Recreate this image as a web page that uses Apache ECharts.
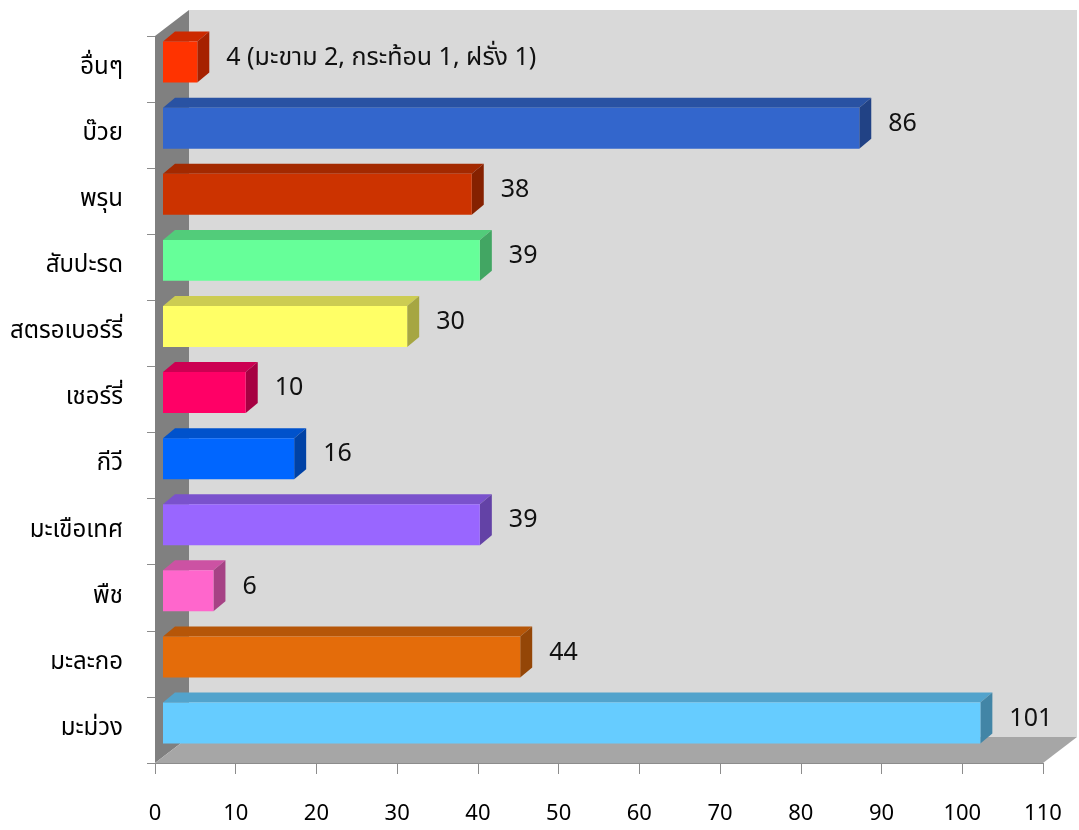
<!DOCTYPE html>
<html>
<head>
<meta charset="utf-8">
<script src="https://cdn.jsdelivr.net/npm/echarts@6/dist/echarts.min.js"></script>
<style>
html,body{margin:0;padding:0;background:#fff;}
#chart{width:1079px;height:830px;}
</style>
</head>
<body>
<div id="chart"></div>
<script>
// ---- data (bottom to top, as the category axis runs) ----
const categories = ['มะม่วง','มะละกอ','พืช','มะเขือเทศ','กีวี','เชอร์รี่','สตรอเบอร์รี่','สับปะรด','พรุน','บ๊วย','อื่นๆ'];
const values = [101, 44, 6, 39, 16, 10, 30, 39, 38, 86, 4];
const labelNotes = ['', '', '', '', '', '', '', '', '', '', ' (มะขาม 2, กระท้อน 1, ฝรั่ง 1)'];
const xMin = 0, xMax = 110, xStep = 10;

// ---- styles ----
const barColors = ['#66CCFF','#E46C0A','#FF66CC','#9966FF','#0066FF','#FF0066','#FFFF66','#66FF99','#CC3300','#3366CC','#FF3300'];
const FONT = 'Tahoma, "Noto Sans Thai", "Noto Sans Thai Looped", "DejaVu Sans", "Noto Sans", sans-serif';
const WALL_DX = 34, WALL_DY = -26;
const BAR_DX = 12, BAR_DY = -10;

function shade(hex, f) {
  const n = parseInt(hex.slice(1), 16);
  const r = Math.round(((n >> 16) & 255) * f), g = Math.round(((n >> 8) & 255) * f), b = Math.round((n & 255) * f);
  return 'rgb(' + r + ',' + g + ',' + b + ')';
}

const chart = echarts.init(document.getElementById('chart'), null, {renderer: 'canvas'});

const option = {
  backgroundColor: '#ffffff',
  animation: false,
  grid: {left: 155, right: 36, top: 36, bottom: 67, containLabel: false},
  xAxis: {
    type: 'value', min: xMin, max: xMax, interval: xStep,
    axisLine: {show: true, lineStyle: {color: '#8c8c8c', width: 1}},
    axisTick: {show: true, length: 11, lineStyle: {color: '#8c8c8c'}},
    splitLine: {show: false},
    axisLabel: {margin: 42, fontSize: 22, color: '#000', fontFamily: FONT}
  },
  yAxis: {
    type: 'category', data: categories,
    axisLine: {show: false},
    axisTick: {show: true, length: 8, inside: false, lineStyle: {color: '#8c8c8c'}},
    axisLabel: {margin: 32, fontSize: 24, color: '#000', fontFamily: FONT}
  },
  series: [
    {
      type: 'custom', z: 1, silent: true,
      data: [[0, 0]],
      renderItem: function (params, api) {
        const cs = params.coordSys;
        const x0 = cs.x, x1 = cs.x + cs.width, y0 = cs.y, y1 = cs.y + cs.height;
        return {
          type: 'group',
          children: [
            {type: 'rect', shape: {x: x0 + WALL_DX, y: y0 + WALL_DY, width: cs.width, height: cs.height},
             style: {fill: '#d9d9d9'}},
            {type: 'polygon', shape: {points: [[x0, y0], [x0 + WALL_DX, y0 + WALL_DY], [x0 + WALL_DX, y1 + WALL_DY], [x0, y1]]},
             style: {fill: '#808080'}},
            {type: 'polygon', shape: {points: [[x0, y1], [x1, y1], [x1 + WALL_DX, y1 + WALL_DY], [x0 + WALL_DX, y1 + WALL_DY]]},
             style: {fill: '#a6a6a6'}}
          ]
        };
      }
    },
    {
      type: 'custom', z: 2,
      data: values.map(function (v, i) { return [v, i]; }),
      encode: {x: 0, y: 1},
      renderItem: function (params, api) {
        const v = api.value(0), ci = api.value(1);
        const p0 = api.coord([0, ci]);
        const p1 = api.coord([v, ci]);
        const band = api.size([0, 1])[1];
        const cy = p0[1];
        const h = band * 0.62;
        const yT = cy - band * 0.105 - h / 2, yB = yT + h;
        const xL = p0[0] + 8, xR = p1[0] + 10;
        const c = barColors[ci];
        const note = labelNotes[ci];
        return {
          type: 'group',
          children: [
            {type: 'polygon', shape: {points: [[xL, yT], [xR, yT], [xR + BAR_DX, yT + BAR_DY], [xL + BAR_DX, yT + BAR_DY]]},
             style: {fill: shade(c, 0.8)}},
            {type: 'polygon', shape: {points: [[xR, yT], [xR + BAR_DX, yT + BAR_DY], [xR + BAR_DX, yB + BAR_DY], [xR, yB]]},
             style: {fill: shade(c, 0.65)}},
            {type: 'rect', shape: {x: xL, y: yT, width: xR - xL, height: h},
             style: {fill: c}},
            {type: 'text', x: xR + BAR_DX + 17, y: cy - band * 0.14,
             style: {text: String(v) + note, fill: '#111', font: '25px ' + FONT, align: 'left', verticalAlign: 'middle'}}
          ]
        };
      }
    }
  ]
};
chart.setOption(option);
</script>
</body>
</html>
